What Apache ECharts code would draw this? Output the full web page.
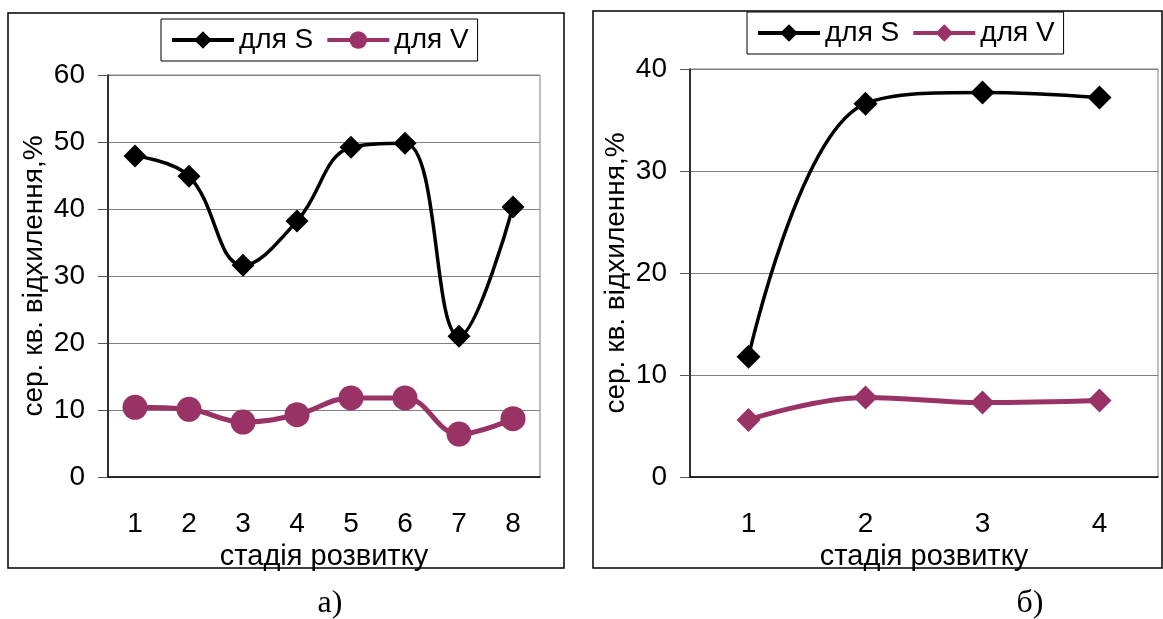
<!DOCTYPE html>
<html>
<head>
<meta charset="utf-8">
<title>стадія розвитку</title>
<script src="https://cdn.jsdelivr.net/npm/echarts@6/dist/echarts.min.js"></script>
<style>
  html, body { margin: 0; padding: 0; background: #fff; }
  #chart { width: 1163px; height: 619px; }
</style>
</head>
<body>
<div id="chart"></div>
<script>
// дані, зчитані з рисунку
const stagesA = ['1', '2', '3', '4', '5', '6', '7', '8'];
const sA = [47.9, 44.9, 31.6, 38.2, 49.2, 49.8, 21.0, 40.3];
const vA = [10.4, 10.1, 8.2, 9.3, 11.8, 11.8, 6.4, 8.7];

const stagesB = ['1', '2', '3', '4'];
const sB = [11.8, 36.6, 37.7, 37.2];
const vB = [5.6, 7.8, 7.3, 7.5];

const legendNames = { S_a: 'для S', V_a: 'для V', S_b: 'для S', V_b: 'для V' };
const yName = 'сер. кв. відхилення,%';
const xName = 'стадія розвитку';
const font = 'Liberation Sans, Arial, sans-serif';
const plum = '#993366';

const chart = echarts.init(document.getElementById('chart'));

function xAxis(grid, cats) {
    return {
        type: 'category',
        gridIndex: grid,
        data: cats,
        boundaryGap: true,
        name: xName,
        nameLocation: 'middle',
        nameGap: 49,
        nameTextStyle: { fontFamily: font, fontSize: 29, color: '#000' },
        axisLine: { lineStyle: { color: '#000', width: 1.5 } },
        axisTick: { length: 10, lineStyle: { color: '#555' } },
        axisLabel: { fontFamily: font, fontSize: 28, color: '#000', margin: 33 },
        splitLine: { show: false }
    };
}

function yAxis(grid, max) {
    return {
        type: 'value',
        gridIndex: grid,
        min: 0,
        max: max,
        interval: 10,
        name: yName,
        nameLocation: 'middle',
        nameRotate: 90,
        nameGap: 60,
        nameTextStyle: { fontFamily: font, fontSize: 28, color: '#000' },
        axisLine: { show: true, lineStyle: { color: '#000', width: 1.5 } },
        axisTick: { show: true, length: 10, lineStyle: { color: '#555' } },
        axisLabel: { fontFamily: font, fontSize: 28, color: '#000', margin: 23 },
        splitLine: { lineStyle: { color: '#808080', width: 1.2 } }
    };
}

function legend(left, top, names) {
    return {
        left: left,
        top: top,
        orient: 'horizontal',
        data: names,
        formatter: n => legendNames[n],
        borderColor: '#000',
        borderWidth: 1,
        padding: [7, 9],
        itemGap: 12,
        itemWidth: 62,
        itemHeight: 22,
        lineStyle: { width: 4 },
        textStyle: { fontFamily: font, fontSize: 28, color: '#000' },
        selectedMode: false
    };
}

const option = {
    animation: false,
    grid: [
        { left: 108, top: 75, width: 432, height: 402, show: true, borderColor: '#808080', borderWidth: 1 },
        { left: 690, top: 69, width: 468, height: 408, show: true, borderColor: '#808080', borderWidth: 1 }
    ],
    legend: [
        legend(161, 19, ['S_a', 'V_a']),
        legend(747, 12, ['S_b', 'V_b'])
    ],
    xAxis: [xAxis(0, stagesA), xAxis(1, stagesB)],
    yAxis: [yAxis(0, 60), yAxis(1, 40)],
    series: [
        {
            name: 'S_a', type: 'line', xAxisIndex: 0, yAxisIndex: 0, data: sA,
            smooth: 0.4, symbol: 'diamond', symbolSize: 23,
            lineStyle: { color: '#000', width: 3.5 }, itemStyle: { color: '#000' }
        },
        {
            name: 'V_a', type: 'line', xAxisIndex: 0, yAxisIndex: 0, data: vA,
            smooth: 0.4, symbol: 'circle', symbolSize: 25,
            lineStyle: { color: plum, width: 5 }, itemStyle: { color: plum }
        },
        {
            name: 'S_b', type: 'line', xAxisIndex: 1, yAxisIndex: 1, data: sB,
            smooth: 0.4, symbol: 'diamond', symbolSize: 24,
            lineStyle: { color: '#000', width: 3.5 }, itemStyle: { color: '#000' }
        },
        {
            name: 'V_b', type: 'line', xAxisIndex: 1, yAxisIndex: 1, data: vB,
            smooth: 0.4, symbol: 'diamond', symbolSize: 24,
            lineStyle: { color: plum, width: 5 }, itemStyle: { color: plum }
        }
    ],
    graphic: [
        { type: 'rect', shape: { x: 8, y: 13, width: 556, height: 555 }, style: { fill: 'none', stroke: '#000', lineWidth: 1.5 }, z: -1 },
        { type: 'rect', shape: { x: 593, y: 11, width: 569, height: 557 }, style: { fill: 'none', stroke: '#000', lineWidth: 1.5 }, z: -1 },
        { type: 'text', x: 330, y: 604, style: { text: 'а)', font: '32px Liberation Serif', fill: '#000', textAlign: 'center', textVerticalAlign: 'middle' } },
        { type: 'text', x: 1030, y: 604, style: { text: 'б)', font: '32px Liberation Serif', fill: '#000', textAlign: 'center', textVerticalAlign: 'middle' } }
    ]
};

chart.setOption(option);
</script>
</body>
</html>
